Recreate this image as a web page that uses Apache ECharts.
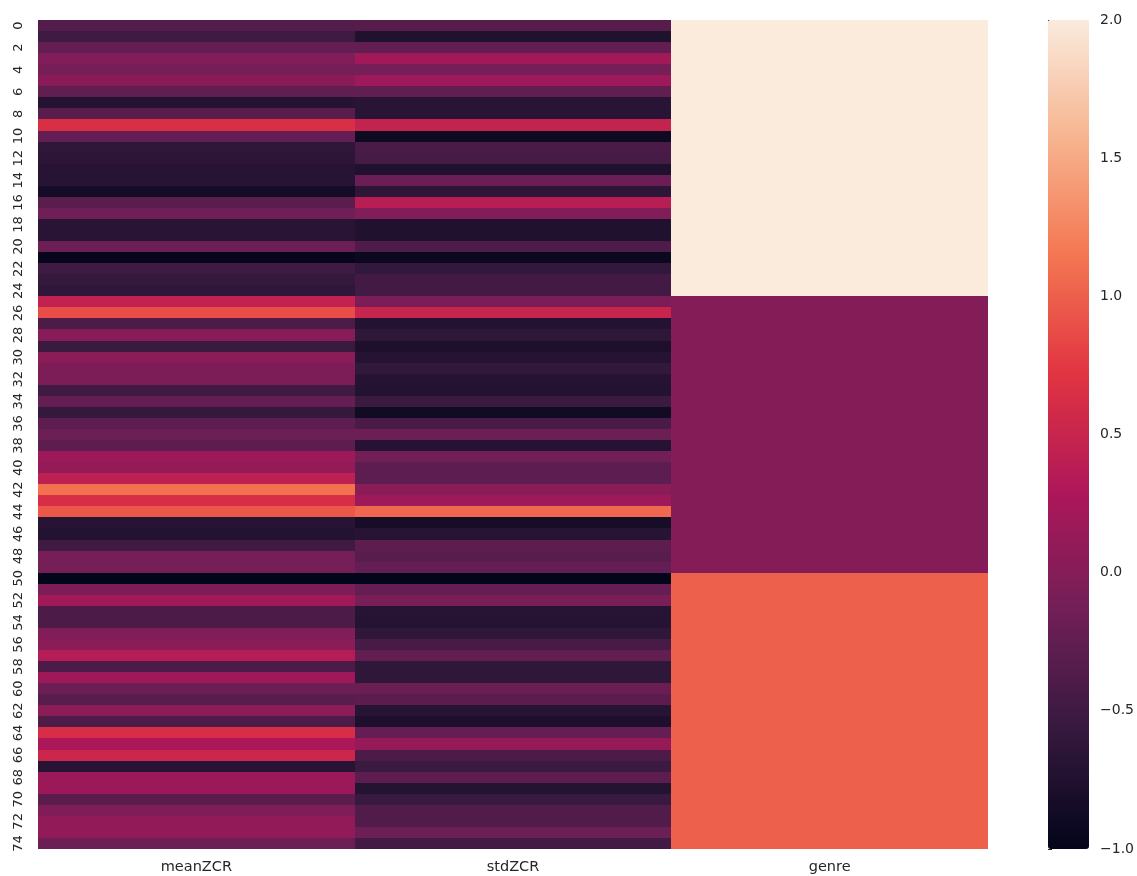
<!DOCTYPE html>
<html>
<head>
<meta charset="utf-8">
<script src="https://cdn.jsdelivr.net/npm/echarts@6/dist/echarts.min.js"></script>
<style>
html,body{margin:0;padding:0;background:#fff;}
#c{width:1137px;height:876px;}
</style>
</head>
<body>
<div id="c"></div>
<script>
const columns = ['meanZCR', 'stdZCR', 'genre'];
const rowLabels = Array.from({length: 75}, (_, i) => String(i));
const meanZCR = [
  -0.35, -0.5, -0.22, -0.02, -0.1, 0.05, -0.25, -0.7, -0.32, 0.65,
  -0.22, -0.62, -0.65, -0.69, -0.69, -0.85, -0.3, -0.15, -0.67, -0.67,
  -0.17, -0.97, -0.5, -0.58, -0.62, 0.45, 0.88, -0.4, 0.02, -0.53,
  0.04, -0.05, -0.05, -0.5, -0.22, -0.58, -0.27, -0.17, -0.28, 0.18,
  0.12, 0.42, 1.12, 0.63, 0.95, -0.69, -0.73, -0.5, -0.1, -0.1,
  -1.0, -0.06, 0.2, -0.4, -0.4, -0.02, 0.04, 0.36, -0.4, 0.18,
  -0.17, -0.32, 0.04, -0.38, 0.63, 0.27, 0.53, -0.69, 0.16, 0.16,
  -0.3, -0.03, 0.1, 0.1, -0.17
];
const stdZCR = [
  -0.33, -0.75, -0.24, 0.2, -0.1, 0.18, -0.25, -0.67, -0.67, 0.47,
  -0.9, -0.42, -0.45, -0.75, -0.18, -0.64, 0.38, -0.02, -0.75, -0.75,
  -0.38, -0.93, -0.6, -0.47, -0.47, -0.06, 0.5, -0.72, -0.62, -0.77,
  -0.7, -0.6, -0.7, -0.73, -0.53, -0.88, -0.42, -0.17, -0.7, -0.12,
  -0.27, -0.27, 0.04, 0.18, 1.05, -0.83, -0.69, -0.28, -0.32, -0.22,
  -1.0, -0.22, -0.07, -0.69, -0.71, -0.62, -0.45, -0.24, -0.62, -0.62,
  -0.19, -0.29, -0.69, -0.77, -0.22, 0.13, -0.4, -0.53, -0.27, -0.71,
  -0.55, -0.36, -0.36, -0.17, -0.47
];
const genre = [
  2, 2, 2, 2, 2, 2, 2, 2, 2, 2, 2, 2, 2, 2, 2, 2, 2, 2, 2, 2, 2, 2, 2, 2, 2,
  0, 0, 0, 0, 0, 0, 0, 0, 0, 0, 0, 0, 0, 0, 0, 0, 0, 0, 0, 0, 0, 0, 0, 0, 0,
  1, 1, 1, 1, 1, 1, 1, 1, 1, 1, 1, 1, 1, 1, 1, 1, 1, 1, 1, 1, 1, 1, 1, 1, 1
];
const colorbarTicks = [-1.0, -0.5, 0.0, 0.5, 1.0, 1.5, 2.0];

const rocket = ['#03051a', '#35193e', '#701f57', '#ad1759', '#e13342', '#f37651', '#f6b48f', '#faebdd'];
const textColor = '#262626';
const font = 'DejaVu Sans';

const seriesCols = [meanZCR, stdZCR, genre];
const data = [];
seriesCols.forEach((arr, ci) => arr.forEach((v, ri) => data.push([ci, ri, v])));

function renderCell(params, api) {
  const c = api.coord([api.value(0), api.value(1)]);
  const s = api.size([1, 1]);
  const w = Math.abs(s[0]), h = Math.abs(s[1]);
  const x0 = Math.round(c[0] - w / 2), x1 = Math.round(c[0] + w / 2);
  const y0 = Math.round(c[1] - h / 2), y1 = Math.round(c[1] + h / 2);
  return {
    type: 'rect',
    shape: {x: x0, y: y0, width: x1 - x0, height: y1 - y0},
    style: {fill: api.visual('color'), stroke: null, lineWidth: 0}
  };
}

const chart = echarts.init(document.getElementById('c'), null, {renderer: 'canvas'});
chart.setOption({
  backgroundColor: '#ffffff',
  animation: false,
  textStyle: {fontFamily: font},
  grid: [
    {left: 38, top: 20, width: 950, height: 829, containLabel: false},
    {left: 1048, top: 20, width: 41, height: 829, containLabel: false}
  ],
  xAxis: [
    {
      type: 'category', data: columns, gridIndex: 0, position: 'bottom',
      axisLine: {show: false}, axisTick: {show: false}, splitLine: {show: false},
      axisLabel: {color: textColor, fontSize: 14.5, fontFamily: font, margin: 11}
    },
    {type: 'value', gridIndex: 1, show: false, min: 0, max: 1}
  ],
  yAxis: [
    {
      type: 'category', data: rowLabels, gridIndex: 0, inverse: true,
      axisLine: {show: false}, axisTick: {show: false}, splitLine: {show: false},
      axisLabel: {color: textColor, fontSize: 13, fontFamily: font, interval: 1, rotate: 90, margin: 13}
    },
    {
      type: 'value', gridIndex: 1, position: 'right', min: -1, max: 2, interval: 0.5,
      axisLine: {show: false}, splitLine: {show: false},
      axisTick: {show: true, length: 4, lineStyle: {color: textColor, width: 1}},
      axisLabel: {
        color: textColor, fontSize: 14, fontFamily: font, margin: 11,
        formatter: v => (v < 0 ? '\u2212' : '') + Math.abs(v).toFixed(1)
      }
    }
  ],
  visualMap: {
    type: 'continuous', min: -1, max: 2, seriesIndex: 0, dimension: 2, calculable: false,
    orient: 'vertical', left: 1048, top: 20, itemWidth: 41, itemHeight: 829,
    padding: 0, text: null, show: true,
    inRange: {color: rocket}
  },
  series: [{
    type: 'custom', xAxisIndex: 0, yAxisIndex: 0, data: data,
    encode: {x: 0, y: 1},
    renderItem: renderCell,
    emphasis: {disabled: true},
    silent: true
  }]
});
</script>
</body>
</html>
